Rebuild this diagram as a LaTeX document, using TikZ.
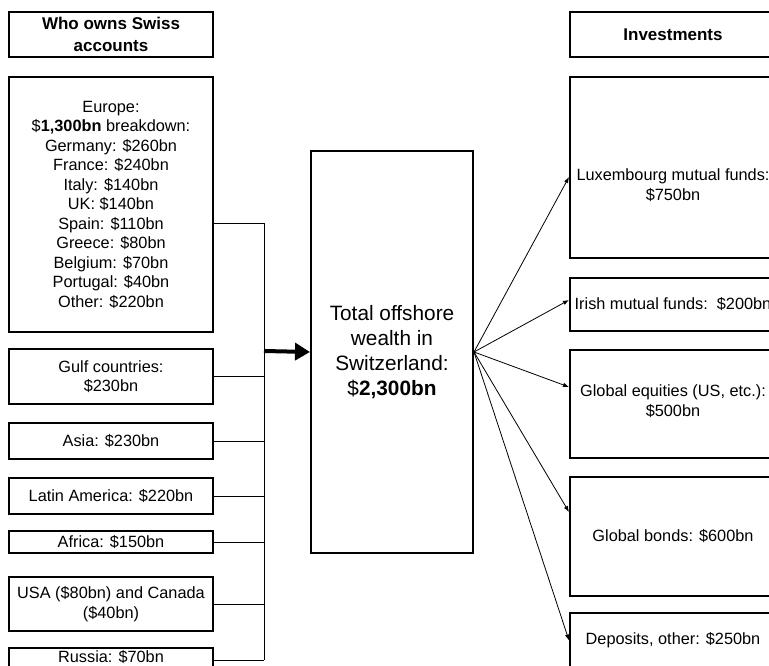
\documentclass[tikz,border=0pt]{standalone}
\usepackage{fontspec}
\setmainfont{Liberation Sans}
\usetikzlibrary{arrows.meta}
\newcommand\fsreg{\fontsize{16.3}{19.5}\selectfont}
\newcommand\fsbig{\fontsize{20.8}{25}\selectfont}
\newcommand\fshdr{\fontsize{17}{22}\selectfont\bfseries}
\tikzset{
  box/.style={draw, line width=2pt, inner sep=0pt, align=center, font=\fsreg},
  lbox/.style={box, minimum width=204pt},
  rbox/.style={box, minimum width=206pt},
  txt/.style={inner sep=0pt, align=center, font=\fsreg},
  conn/.style={line width=0.9pt},
  fan/.style={line width=0.8pt, -{Latex[length=6pt,width=4.5pt]}},
  bigarrow/.style={line width=4pt, -{Triangle[length=15pt,width=17pt]}}
}
\begin{document}
\begin{tikzpicture}[x=1pt,y=-1pt]
\useasboundingbox (0,0) rectangle (769,666);
\clip (0,0) rectangle (769,666);
% left column
\node[lbox, minimum height=45pt, font=\fshdr] (hdrL) at (111,34.5) {Who owns Swiss\\accounts};
\node[lbox, minimum height=255pt] (eu) at (111,204.5) {Europe:\\\$\textbf{1,300bn} breakdown:\\Germany: \$260bn\\France: \$240bn\\Italy: \$140bn\\UK: \$140bn\\Spain: \$110bn\\Greece: \$80bn\\Belgium: \$70bn\\Portugal: \$40bn\\Other: \$220bn};
\node[lbox, minimum height=55pt] (gulf) at (111,376.5) {Gulf countries:\\\$230bn};
\node[lbox, minimum height=36pt] (asia) at (111,441) {Asia: \$230bn};
\node[lbox, minimum height=36pt] (lat) at (111,496) {Latin America: \$220bn};
\node[lbox, minimum height=22pt] (afr) at (111,542) {Africa: \$150bn};
\node[lbox, minimum height=54pt] (usa) at (111,604) {USA (\$80bn) and Canada\\(\$40bn)};
\node[lbox, minimum height=24pt] (ru) at (111,660) {};
\node[txt] (rut) at (111,657.5) {Russia: \$70bn};
% bus
\coordinate (bt) at (264,223);
\coordinate (bb) at (264,660);
\coordinate (bm) at (264,351);
\draw[conn] ([yshift=-18.5pt]eu.east) -- (bt) -- (bb);
\foreach \n in {gulf,asia,lat,afr,usa,ru}{\draw[conn] (\n.east) -- (\n.east -| bt);}
% center
\node[box, minimum width=162pt, minimum height=402pt, font=\fsbig] (tot) at (392,352) {Total offshore\\wealth in\\Switzerland:\\\$\textbf{2,300bn}};
\draw[bigarrow] (bm) -- (tot.west);
% right column
\node[rbox, minimum height=45pt, font=\fshdr] (hdrR) at (673,34.5) {Investments};
\node[rbox, minimum height=181pt] (lux) at (673,167.5) {};
\node[txt] (luxt) at (673,185) {Luxembourg mutual funds:\\\$750bn};
\node[rbox, minimum height=53pt] (ir) at (673,304.5) {Irish mutual funds:~~\$200bn};
\node[rbox, minimum height=108pt] (eq) at (673,404) {};
\node[txt] (eqt) at (673,401) {Global equities (US, etc.):\\\$500bn};
\node[rbox, minimum height=119pt] (bd) at (673,536.5) {Global bonds: \$600bn};
\node[rbox, minimum height=55pt] (dep) at (673,640.5) {Deposits, other: \$250bn};
% fan
\draw[fan] (tot.east) -- ([yshift=-9.5pt]lux.west);
\draw[fan] (tot.east) -- ([yshift=4.5pt]ir.west);
\draw[fan] (tot.east) -- ([yshift=17pt]eq.west);
\draw[fan] (tot.east) -- ([yshift=24.5pt]bd.west);
\draw[fan] (tot.east) -- (dep.west);
\end{tikzpicture}
\end{document}
